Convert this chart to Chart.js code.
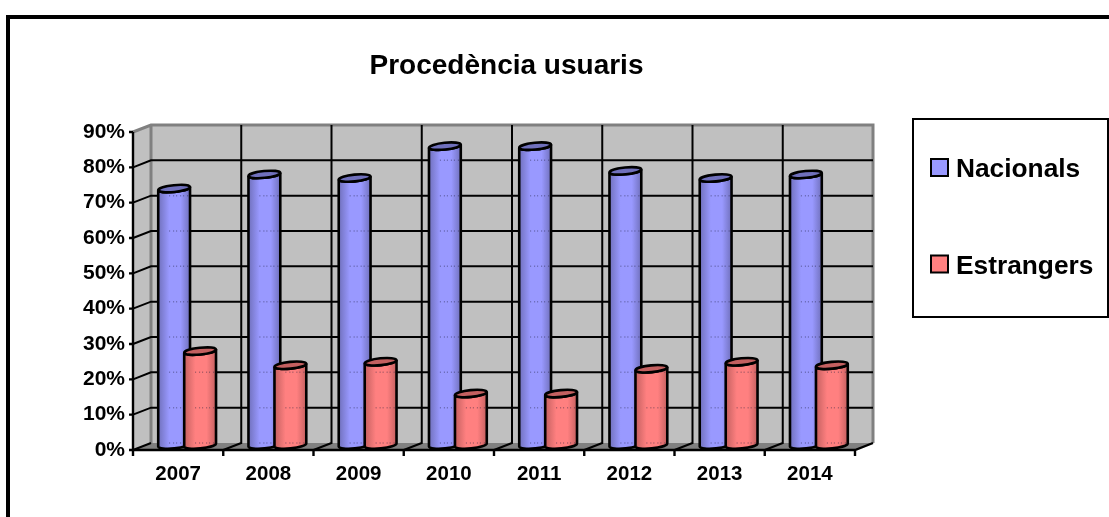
<!DOCTYPE html>
<html>
<head>
<meta charset="utf-8">
<style>
  html, body { margin: 0; background: #fff; }
  canvas { display: block; }
</style>
<script src="https://cdn.jsdelivr.net/npm/chart.js@4/dist/chart.umd.min.js"></script>
</head>
<body>
<canvas id="chart" width="1109" height="517"></canvas>
<script>
const years      = ['2007', '2008', '2009', '2010', '2011', '2012', '2013', '2014'];
const nacionals  = [73, 77, 76, 85, 85, 78, 76, 77];
const estrangers = [27, 23, 24, 15, 15, 22, 24, 23];
const titleText  = 'Procedència usuaris';

const FONT = '"Liberation Sans", Arial, sans-serif';
const DEPTH = { x: 18, y: -7 };       // back wall offset from the front axes
const BAR_SHIFT = { x: 9, y: -3.5 };  // cylinders stand halfway into the floor
const SHADES = { '#9999ff': '#7070bc', '#ff8080': '#c46060' };

let wallLines = [];

// ── Cylinder bar ──────────────────────────────────────────────────────
class CylinderElement extends Chart.BarElement {
  static id = 'cylinder';

  draw(ctx) {
    const { x, y, base, width } = this.getProps(['x', 'y', 'base', 'width']);
    const main = this.options.backgroundColor;
    const dark = SHADES[main];
    const w = width * 1.23;
    const left = x + BAR_SHIFT.x - w / 2;
    const right = left + w;
    const top = y + BAR_SHIFT.y;
    const bottom = base + BAR_SHIFT.y;
    const cx = left + w / 2;
    const tilt = -0.1;

    const grad = ctx.createLinearGradient(left, 0, right, 0);
    grad.addColorStop(0, dark);
    grad.addColorStop(0.35, main);
    grad.addColorStop(0.7, main);
    grad.addColorStop(1, dark);

    const body = new Path2D();
    body.ellipse(cx, top, w / 2, 3.4, tilt, Math.PI, 0, true);
    body.ellipse(cx, bottom - 1.5, w / 2, 3.4, tilt, 0, Math.PI, false);
    body.closePath();

    ctx.save();
    ctx.fillStyle = grad;
    ctx.fill(body);

    // faint marks where the wall lines show through
    ctx.save();
    ctx.clip(body);
    ctx.strokeStyle = 'rgba(30,30,60,0.4)';
    ctx.lineWidth = 1.5;
    ctx.setLineDash([1, 3, 1, 2]);
    wallLines.filter(g => g > top + 2).forEach(g => {
      ctx.beginPath();
      ctx.moveTo(cx - 5, g);
      ctx.lineTo(right - 1, g);
      ctx.stroke();
    });
    ctx.restore();

    ctx.strokeStyle = '#000';
    ctx.lineWidth = 2.6;
    ctx.stroke(body);

    ctx.beginPath();
    ctx.ellipse(cx, top, w / 2, 3.4, tilt, 0, Math.PI * 2);
    ctx.fillStyle = dark;
    ctx.fill();
    ctx.stroke();
    ctx.restore();
  }
}

class CylinderController extends Chart.BarController {
  static id = 'cylinder';
  static defaults = { ...Chart.BarController.defaults, dataElementType: 'cylinder' };
  static overrides = Chart.BarController.overrides;

  // keep the side-by-side slots in dataset order, whatever the paint order is
  _getStackIndex(datasetIndex) {
    return datasetIndex;
  }
}

Chart.register(CylinderElement, CylinderController);

// ── Frame, title and walls behind the bars ────────────────────────────
const wallPlugin = {
  id: 'wall',
  beforeDraw(chart) {
    const { ctx } = chart;
    ctx.save();
    ctx.strokeStyle = '#000';
    ctx.lineWidth = 4;
    ctx.strokeRect(8, 17, 1200, 700);
    ctx.fillStyle = '#000';
    ctx.font = 'bold 28px ' + FONT;
    ctx.textAlign = 'center';
    ctx.textBaseline = 'alphabetic';
    ctx.fillText(titleText, 506.5, 74);
    ctx.restore();
  },
  beforeDatasetsDraw(chart) {
    const { ctx, chartArea: a, scales: { x, y } } = chart;
    const dx = DEPTH.x, dy = DEPTH.y;
    wallLines = y.ticks.map((t, i) => y.getPixelForTick(i) + dy);

    ctx.save();
    // side wall, back wall, floor
    ctx.fillStyle = '#c0c0c0';
    ctx.beginPath();
    ctx.moveTo(a.left, a.top);
    ctx.lineTo(a.left + dx, a.top + dy);
    ctx.lineTo(a.left + dx, a.bottom + dy);
    ctx.lineTo(a.left, a.bottom);
    ctx.closePath();
    ctx.fill();
    ctx.fillRect(a.left + dx, a.top + dy, a.width, a.height);

    ctx.fillStyle = '#808080';
    ctx.beginPath();
    ctx.moveTo(a.left, a.bottom);
    ctx.lineTo(a.left + dx, a.bottom + dy);
    ctx.lineTo(a.right + dx, a.bottom + dy);
    ctx.lineTo(a.right, a.bottom);
    ctx.closePath();
    ctx.fill();

    // wall edges
    ctx.strokeStyle = '#808080';
    ctx.lineWidth = 3;
    ctx.beginPath();
    ctx.moveTo(a.left, a.top);
    ctx.lineTo(a.left + dx, a.top + dy);
    ctx.lineTo(a.right + dx, a.top + dy);
    ctx.lineTo(a.right + dx, a.bottom + dy);
    ctx.moveTo(a.left + dx, a.top + dy);
    ctx.lineTo(a.left + dx, a.bottom + dy);
    ctx.stroke();

    ctx.strokeStyle = '#000';

    // horizontal grid on the back wall and across the side wall
    ctx.lineWidth = 2;
    y.ticks.forEach((t, i) => {
      if (t.value === 90) return;
      const py = y.getPixelForTick(i);
      ctx.beginPath();
      if (t.value > 0) {
        ctx.moveTo(a.right + dx, py + dy);
        ctx.lineTo(a.left + dx, py + dy);
      } else {
        ctx.moveTo(a.left + dx, py + dy);
      }
      ctx.lineTo(a.left, py);
      ctx.stroke();
    });

    // vertical grid and floor marks at the category edges
    const step = a.width / years.length;
    for (let i = 1; i < years.length; i++) {
      const px = x.getPixelForValue(i) - step / 2;
      ctx.lineWidth = 2;
      ctx.beginPath();
      ctx.moveTo(px + dx, a.top + dy);
      ctx.lineTo(px + dx, a.bottom + dy);
      ctx.lineTo(px, a.bottom);
      ctx.stroke();
    }

    // front axes with outer ticks
    ctx.lineWidth = 2.4;
    ctx.beginPath();
    ctx.moveTo(a.left, a.top);
    ctx.lineTo(a.left, a.bottom);
    ctx.lineTo(a.right, a.bottom);
    ctx.lineTo(a.right + dx, a.bottom + dy);
    y.ticks.forEach((t, i) => {
      const py = y.getPixelForTick(i);
      ctx.moveTo(a.left - 4, py);
      ctx.lineTo(a.left, py);
    });
    for (let i = 0; i <= years.length; i++) {
      const px = a.left + i * step;
      ctx.moveTo(px, a.bottom);
      ctx.lineTo(px, a.bottom + 6);
    }
    ctx.stroke();
    ctx.restore();
  },
  // legend box on the right
  afterDraw(chart) {
    const { ctx } = chart;
    ctx.save();
    ctx.fillStyle = '#fff';
    ctx.strokeStyle = '#000';
    ctx.lineWidth = 2;
    ctx.fillRect(913, 119, 195, 198);
    ctx.strokeRect(913, 119, 195, 198);
    ctx.font = 'bold 26.3px ' + FONT;
    ctx.textBaseline = 'alphabetic';
    chart.data.datasets.forEach((ds, i) => {
      const top = 159 + i * 96.5;
      ctx.fillStyle = ds.backgroundColor;
      ctx.fillRect(931, top, 17, 17);
      ctx.strokeRect(931, top, 17, 17);
      ctx.fillStyle = '#000';
      ctx.fillText(ds.label, 956, top + 18);
    });
    ctx.restore();
  }
};

new Chart(document.getElementById('chart'), {
  type: 'cylinder',
  data: {
    labels: years,
    datasets: [
      { label: 'Nacionals', data: nacionals, backgroundColor: '#9999ff', order: 2, clip: false },
      { label: 'Estrangers', data: estrangers, backgroundColor: '#ff8080', order: 1, clip: false },
    ]
  },
  options: {
    responsive: false,
    animation: false,
    categoryPercentage: 0.576,
    barPercentage: 1,
    layout: { padding: { top: 132, right: 254, left: 0, bottom: 0 } },
    plugins: { legend: { display: false }, title: { display: false }, tooltip: { enabled: false } },
    scales: {
      x: {
        grid: { display: false },
        border: { display: false },
        afterFit: s => { s.height = 67; },
        ticks: { color: '#000', font: { family: FONT, weight: 'bold', size: 20.5 }, padding: 4, maxRotation: 0 },
      },
      y: {
        min: 0,
        max: 90,
        grid: { display: false },
        border: { display: false },
        afterFit: s => { s.width = 133; },
        ticks: {
          stepSize: 10,
          color: '#000',
          padding: 0,
          font: { family: FONT, weight: 'bold', size: 21 },
          callback: v => v + '%',
        },
      },
    },
  },
  plugins: [wallPlugin],
});
</script>
</body>
</html>
